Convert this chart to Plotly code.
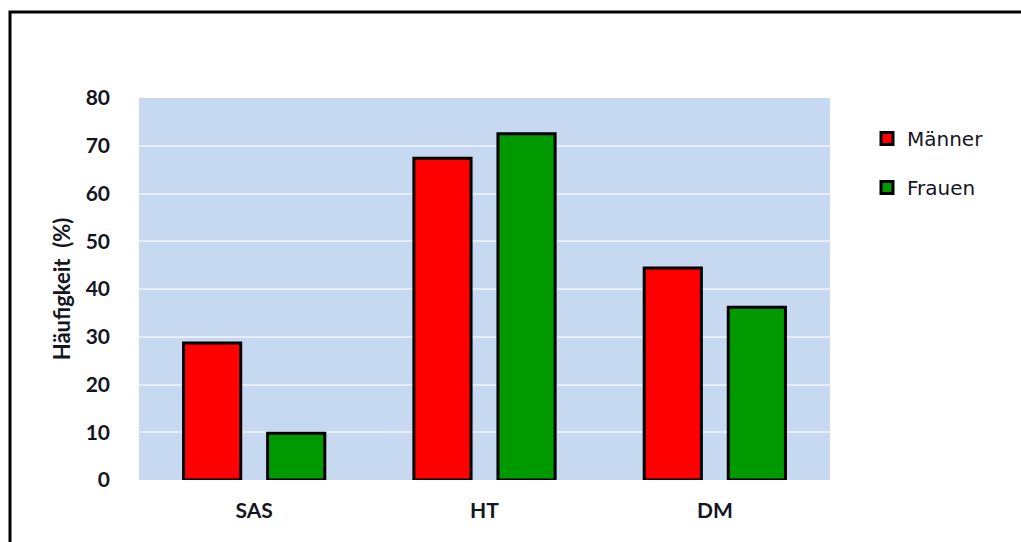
import plotly.graph_objects as go

# Prevalence by diagnosis and sex
categories = ["SAS", "HT", "DM"]
maenner = [28.7, 67.4, 44.4]
frauen = [9.8, 72.5, 36.2]
y_ticks = [0, 10, 20, 30, 40, 50, 60, 70, 80]

W, H = 1021, 542
L, R, T, B = 139, 191, 98, 62
pw, ph = W - L - R, H - T - B

def px_x(x):
    return (x - L) / pw

def px_y(y):
    return 1 - (y - T) / ph

fig = go.Figure()
fig.add_trace(go.Bar(
    x=categories, y=maenner, name="Männer", legendgroup="m",
    marker=dict(color="#FF0000", line=dict(color="black", width=3)),
))
fig.add_trace(go.Bar(
    x=categories, y=frauen, name="Frauen", legendgroup="f",
    marker=dict(color="#009900", line=dict(color="black", width=3)),
))

# outer chart frame (runs off the right and bottom edges)
fig.add_shape(
    type="rect", xref="paper", yref="paper",
    x0=px_x(10), x1=px_x(1040), y0=px_y(570), y1=px_y(12),
    line=dict(color="black", width=3), fillcolor="rgba(0,0,0,0)", layer="above",
)

fig.update_layout(
    width=W, height=H,
    margin=dict(l=L, r=R, t=T, b=B, autoexpand=False),
    paper_bgcolor="white",
    plot_bgcolor="#C6D9F0",
    barmode="group",
    bargap=0.27,
    bargroupgap=0.32,
    font=dict(family="Lato, Open Sans, sans-serif", color="#15151f"),
    showlegend=True,
    legend=dict(
        x=px_x(867), y=px_y(119), xanchor="left", yanchor="top",
        font=dict(family="DejaVu Sans, sans-serif", size=20, color="#15151f"),
        tracegroupgap=20, bgcolor="rgba(0,0,0,0)",
    ),
    xaxis=dict(
        showgrid=False, zeroline=False, showline=False,
        tickfont=dict(size=21, weight="bold"),
        ticklabelstandoff=16, ticks="",
    ),
    yaxis=dict(
        range=[0, 80], tickvals=y_ticks,
        showgrid=True, gridcolor="#E6EEF8", gridwidth=1.5,
        zeroline=False, showline=False, ticks="",
        tickfont=dict(size=21, weight="bold"),
        ticklabelstandoff=28,
        title=dict(text="Häufigkeit  (%)", font=dict(size=22, weight="bold"), standoff=8),
    ),
)

fig.write_html("out.html")
